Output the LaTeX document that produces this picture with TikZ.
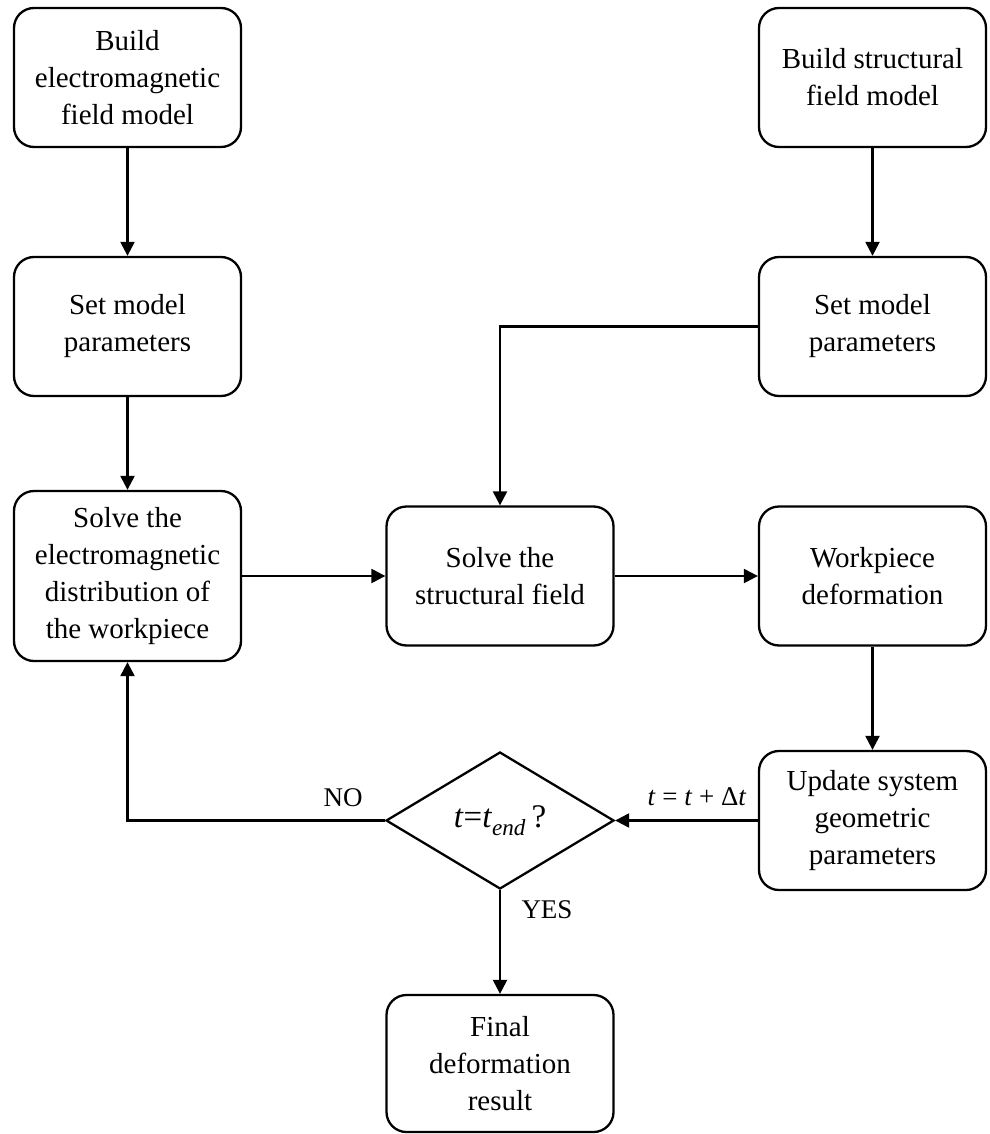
\documentclass[tikz,border=0pt]{standalone}
\usepackage{fontspec}
\setmainfont{Liberation Serif}
\usetikzlibrary{arrows.meta,shapes.geometric}
\begin{document}
\begin{tikzpicture}[x=1pt,y=-1pt,
		box/.style={draw, line width=2.3pt, rounded corners=20pt, minimum width=227pt, minimum height=139pt, align=center, inner sep=0pt, font=\fontsize{29}{37}\selectfont},
		decision/.style={draw, diamond, line width=2.3pt, minimum width=228pt, minimum height=137pt, inner sep=0pt, font=\fontsize{33}{40}\selectfont},
		lbl/.style={inner sep=0pt, font=\fontsize{27}{33}\selectfont},
		arrow/.style={line width=2.3pt, -{Triangle[length=14pt,width=14pt]}}]
		\useasboundingbox (0,0) rectangle (989,1134);
		% left column
		\node[box] (em1) at (127.5,77.5) {Build\\electromagnetic\\field model};
		\node[box] (em2) at (127.5,326.5) {Set model\\parameters};
		\node[box, minimum height=170pt] (em3) at (127.5,576) {Solve the\\electromagnetic\\distribution of\\the workpiece};
		% right column
		\node[box] (st1) at (872.5,77.5) {Build structural\\field model};
		\node[box] (st2) at (872.5,326.5) {Set model\\parameters};
		\node[box] (deform) at (872.5,576) {Workpiece\\deformation};
		\node[box] (update) at (872.5,820.5) {Update system\\geometric\\parameters};
		% middle
		\node[box] (solve) at (500,576) {Solve the\\structural field};
		\node[decision] (check) at (500,820.5) {\textit{t}=\textit{t}\textsubscript{\textit{end}}\,?};
		\node[box, minimum height=137pt] (final) at (500,1063.5) {Final\\deformation\\result};
		% labels
		\node[lbl] (dt) at (697,797) {\textit{t} = \textit{t} + Δ\textit{t}};
		\node[lbl] (no) at (343,798) {NO};
		\node[lbl] (yes) at (547,910) {YES};
		% connectors
		\draw[arrow] (em1) -- (em2);
		\draw[arrow] (em2) -- (em3);
		\draw[arrow] (st1) -- (st2);
		\draw[arrow] (st2.west) -| (solve.north);
		\draw[arrow] (em3) -- (solve);
		\draw[arrow] (solve) -- (deform);
		\draw[arrow] (deform) -- (update);
		\draw[arrow] (update.west) -- (check.east);
		\draw[arrow] (check.west) -| (em3.south);
		\draw[arrow] (check.south) -- (final.north);
	\end{tikzpicture}
\end{document}
